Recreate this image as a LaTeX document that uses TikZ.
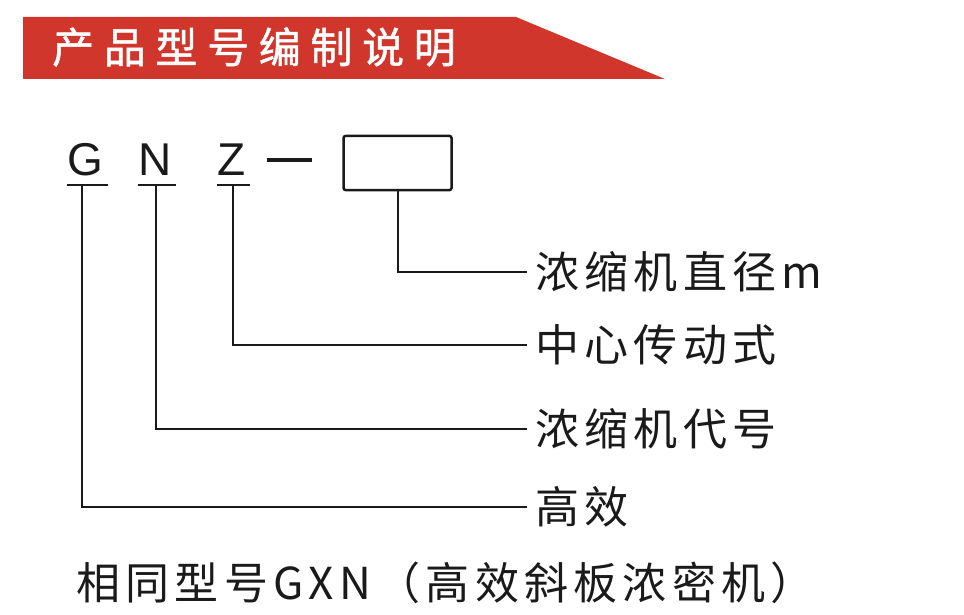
\documentclass[tikz,border=0pt]{standalone}
\usepackage{fontspec}
\newfontfamily\cjk[LetterSpace=12]{Noto Sans CJK SC}
\newfontfamily\hdr[LetterSpace=23,FakeBold=1.2]{Noto Sans CJK SC}
\newfontfamily\lat{Liberation Sans}
\definecolor{bannerred}{HTML}{D0362C}
\definecolor{ink}{HTML}{1A1A1A}
\tikzset{
  letter/.style={inner sep=0pt, text=ink, font=\lat\fontsize{46}{46}\selectfont},
  label/.style={anchor=west, inner xsep=8pt, inner ysep=0pt, text=ink, font=\cjk\fontsize{44}{44}\selectfont},
  conn/.style={draw=ink, line width=2pt},
}
\begin{document}
\begin{tikzpicture}[x=1pt,y=-1pt]
\useasboundingbox (0,0) rectangle (964,615);
% banner
\fill[bannerred] (23,17) -- (516,17) -- (665,79) -- (23,79) -- cycle;
\node[anchor=west, inner sep=0pt, text=white, font=\hdr\fontsize{42}{42}\selectfont] (title) at (52,47) {产品型号编制说明};
% code letters
\node[letter] (G) at (85,159.5) {G};
\node[letter] (N) at (155,159.5) {N};
\node[letter] (Z) at (231.5,159.5) {Z};
\coordinate (Gu) at (82,185);
\coordinate (Nu) at (156,185);
\coordinate (Zu) at (233,185);
\draw[conn] (67,185) -- (108,185);
\draw[conn] (138,185) -- (176,185);
\draw[conn] (217,185) -- (250,185);
\coordinate (dashL) at (267,160);
\coordinate (dashR) at (312,160);
\draw[draw=ink, line width=3.5pt] (dashL) -- (dashR);
\node[draw=ink, line width=2.5pt, rounded corners=2pt, minimum width=108pt, minimum height=54pt, inner sep=0pt] (box) at (397.5,163) {};
% labels
\node[label] (l1) at (527,271.5) {浓缩机直径m};
\node[label] (l2) at (527,345) {中心传动式};
\node[label] (l3) at (527,428.5) {浓缩机代号};
\node[label] (l4) at (527,507) {高效};
% connectors
\draw[conn] (box.south) |- (l1.west);
\draw[conn] (Zu) |- (l2.west);
\draw[conn] (Nu) |- (l3.west);
\draw[conn] (Gu) |- (l4.west);
% note
\node[anchor=west, inner sep=0pt, text=ink, font=\cjk\fontsize{44}{44}\selectfont] (note) at (76,583) {相同型号GXN（高效斜板浓密机）};
\end{tikzpicture}
\end{document}
